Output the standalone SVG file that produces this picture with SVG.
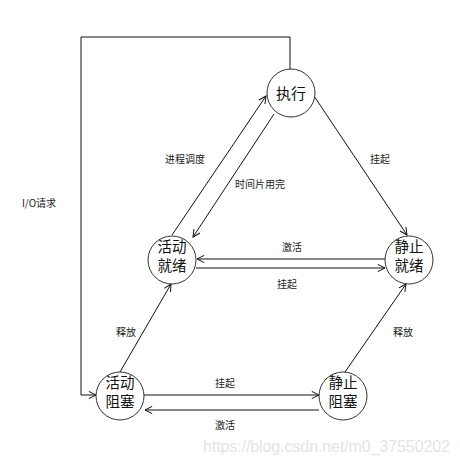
<svg xmlns="http://www.w3.org/2000/svg" width="460" height="466" viewBox="0 0 460 466">
<defs>
<style>
.node circle{fill:#fff;stroke:#333;stroke-width:1}
.node text{font-family:"Noto Sans CJK SC","Noto Sans",sans-serif;font-size:15px;fill:#111;text-anchor:middle}
.node text.two{font-size:14.5px}
.edge{fill:none;stroke:#111;stroke-width:1;marker-end:url(#arr)}
.lbl{font-family:"Noto Sans CJK SC","Noto Sans",sans-serif;font-size:10px;fill:#222;text-anchor:middle}
.wm{font-family:"Liberation Sans",Arial,sans-serif;font-size:16px;fill:#e4e4e4}
</style>
<marker id="arr" viewBox="0 0 10 10" refX="9" refY="5" markerWidth="9" markerHeight="9" markerUnits="userSpaceOnUse" orient="auto">
<path d="M1,1 L9,5 L1,9" fill="none" stroke="#111" stroke-width="1.1"/>
</marker>
</defs>
<rect width="460" height="466" fill="#fff"/>
<g id="connectors">
<path class="edge" d="M290,69 L290,37 L81,37 L81,395 L96,395"/>
<line class="edge" x1="172" y1="235" x2="266" y2="96"/>
<line class="edge" x1="274" y1="114" x2="193" y2="237"/>
<line class="edge" x1="314" y1="96" x2="407" y2="235"/>
<line class="edge" x1="385" y1="259" x2="197" y2="259"/>
<line class="edge" x1="196" y1="268" x2="385" y2="268"/>
<line class="edge" x1="120" y1="372" x2="171" y2="284"/>
<line class="edge" x1="345" y1="372" x2="406" y2="284"/>
<line class="edge" x1="144" y1="395" x2="319" y2="395"/>
<line class="edge" x1="319" y1="410" x2="145" y2="410"/>
<text class="lbl" x="185" y="163">进程调度</text>
<text class="lbl" x="260" y="188">时间片用完</text>
<text class="lbl" x="380" y="163">挂起</text>
<text class="lbl" x="292" y="251">激活</text>
<text class="lbl" x="287" y="288">挂起</text>
<text class="lbl" x="126" y="336">释放</text>
<text class="lbl" x="403" y="336">释放</text>
<text class="lbl" x="225" y="387">挂起</text>
<text class="lbl" x="225" y="429">激活</text>
<text class="lbl" x="39" y="207">I/O请求</text>
</g>
<g id="exec" class="node"><circle cx="291" cy="93" r="24"/><text x="291" y="99">执行</text></g>
<g id="activeReady" class="node"><circle cx="172" cy="260" r="24"/><text class="two" x="172" y="252">活动<tspan x="172" dy="19">就绪</tspan></text></g>
<g id="staticReady" class="node"><circle cx="409" cy="260" r="24"/><text class="two" x="409" y="252">静止<tspan x="409" dy="19">就绪</tspan></text></g>
<g id="activeBlock" class="node"><circle cx="120" cy="396" r="24"/><text class="two" x="120" y="388">活动<tspan x="120" dy="19">阻塞</tspan></text></g>
<g id="staticBlock" class="node"><circle cx="343" cy="396" r="24"/><text class="two" x="343" y="388">静止<tspan x="343" dy="19">阻塞</tspan></text></g>
<text class="wm" x="203" y="452" textLength="247">https://blog.csdn.net/m0_37550202</text>
</svg>
